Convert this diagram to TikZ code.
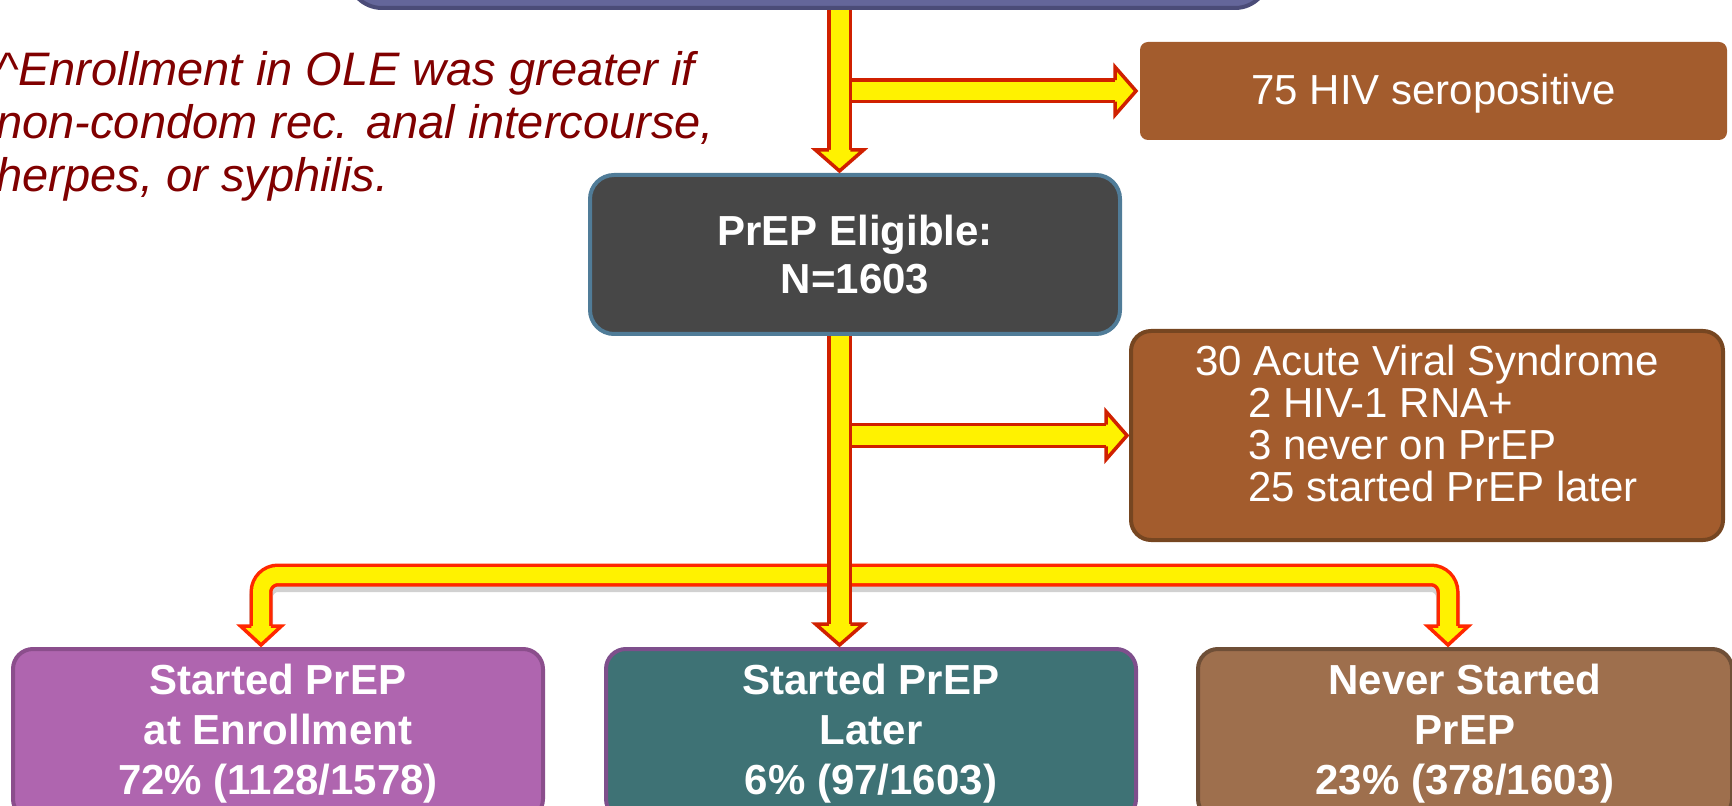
\documentclass[tikz,border=0pt]{standalone}
\usepackage{fontspec}
\setmainfont{Liberation Sans}
\usetikzlibrary{
  calc,
  positioning
}
\definecolor{topfill}{RGB}{100,102,154}
\definecolor{topline}{RGB}{75,76,120}
\definecolor{rustfill}{RGB}{163,92,45}
\definecolor{rustline}{RGB}{118,70,33}
\definecolor{eligfill}{RGB}{71,71,71}
\definecolor{eligline}{RGB}{80,124,152}
\definecolor{enrolfill}{RGB}{175,101,175}
\definecolor{enrolline}{RGB}{139,78,140}
\definecolor{laterfill}{RGB}{62,114,117}
\definecolor{laterline}{RGB}{126,79,140}
\definecolor{neverfill}{RGB}{158,111,77}
\definecolor{neverline}{RGB}{111,79,55}
\definecolor{notered}{RGB}{128,0,0}
\definecolor{arrowred}{RGB}{208,32,0}
\definecolor{bendred}{RGB}{255,40,0}

\begin{document}
\begin{tikzpicture}[x=0.5pt,y=0.5pt,
      box/.style={
         rectangle,
         anchor=north west,
         inner sep=0pt,
         line width=2pt,
         text=white,
         align=center
      },
      bold text/.style={font=\fontsize{21pt}{#1}\selectfont\bfseries},
      plain text/.style={font=\fontsize{21pt}{#1}\selectfont},
      note/.style={
         anchor=north west,
         inner sep=0pt,
         align=left,
         text=notered,
         font=\fontsize{23.5pt}{26.5pt}\selectfont\itshape
      },
      shaft/.style={draw=yellow,line width=9pt,
         preaction={draw=arrowred,line width=12.5pt}},
      bent shaft/.style={draw=yellow,line width=8pt,rounded corners=8.5pt,
         preaction={draw=bendred,line width=11.5pt}},
      bar shadow/.style={draw=black,opacity=0.18,line width=12pt,rounded corners=8.5pt,
         transform canvas={yshift=-2.5pt}},
      head/.style={fill=yellow,draw=arrowred,line width=1.75pt,line join=miter},
      bent head/.style={fill=yellow,draw=bendred,line width=1.75pt,line join=miter},
      pics/blockhead/.style n args={4}{code={
         \filldraw[#4] (-#1,0) -- (-#2,0) -- (0,-#3) -- (#2,0) -- (#1,0);}}
    ]
    \useasboundingbox (0,0) rectangle (1732,-806);

    % boxes
    \node (top) [box, anchor=south west, fill=topfill, draw=topline, rounded corners=17pt,
       minimum width=460.5pt, minimum height=30pt] at (346,-10) {};
    \node (hiv) [box, fill=rustfill, rounded corners=4pt, plain text=21pt,
       minimum width=293.5pt, minimum height=49pt] at (1138,-40) {75 HIV seropositive\\[-19pt]{}};
    \node (elig) [box, fill=eligfill, draw=eligline, rounded corners=12pt, bold text=24pt,
       minimum width=265pt, minimum height=79.5pt] at (588,-173) {PrEP Eligible:\\N=1603};
    \node (acute) [box, fill=rustfill, draw=rustline, rounded corners=10pt, plain text=21pt,
       align=left, minimum width=296pt, minimum height=104.5pt] at (1129,-329)
       {30 Acute Viral Syndrome\\\hspace*{26.5pt}2 HIV-1 RNA+\\\hspace*{26.5pt}3 never on PrEP\\\hspace*{26.5pt}25 started PrEP later\\[-9pt]{}};
    \node (enrol) [box, fill=enrolfill, draw=enrolline, rounded corners=10pt, bold text=25pt,
       minimum width=265pt, minimum height=85pt] at (11,-647) {Started PrEP\\at Enrollment\\72\% (1128/1578)};
    \node (later) [box, fill=laterfill, draw=laterline, rounded corners=10pt, bold text=25pt,
       minimum width=265pt, minimum height=85pt] at (604,-647) {Started PrEP\\Later\\6\% (97/1603)};
    \node (never) [box, fill=neverfill, draw=neverline, rounded corners=10pt, bold text=25pt,
       minimum width=267pt, minimum height=85pt] at (1196,-647) {Never Started\\PrEP\\23\% (378/1603)};

    \node (note) [note] at (-4,-51)
       {\textasciicircum Enrollment in OLE was greater if\\non-condom rec. anal intercourse,\\herpes, or syphilis.};

    % arrow points
    \coordinate (spine) at (839.5,0);
    \coordinate (a1) at ($(spine |- elig.north)+(0,23)$);
    \coordinate (s2) at ($(spine |- hiv.west)+(12.5,0)$);
    \coordinate (a2) at ($(hiv.west)+(-23,0)$);
    \coordinate (a3) at ($(spine |- later.north)+(0,23)$);
    \coordinate (s4) at ($(spine |- acute.west)+(12.5,0)$);
    \coordinate (a4) at ($(acute.west)+(-23,0)$);
    \coordinate (fork) at ($(spine |- later.north)+(0,72)$);
    \coordinate (a5) at ($(enrol.north)+(-17,21)$);
    \coordinate (a6) at ($(never.north)+(-17,21)$);

    % branches to the three groups
    \draw[bar shadow] (fork) -| (a5);
    \draw[bar shadow] (fork) -| (a6);
    \draw[bent shaft] (fork) -| (a5);
    \draw[bent shaft] (fork) -| (a6);
    \pic at (a5) {blockhead={9.75}{20.5}{19}{bent head}};
    \pic at (a6) {blockhead={9.75}{20.5}{19}{bent head}};

    % main line
    \draw[shaft] (spine |- top.south) -- (a1);
    \pic at (a1) {blockhead={10.75}{24}{21}{head}};
    \draw[shaft] (s2) -- (a2);
    \pic[rotate=90] at (a2) {blockhead={10.75}{24}{21}{head}};
    \draw[shaft] (spine |- elig.south) -- (a3);
    \pic at (a3) {blockhead={10.75}{24}{21}{head}};
    \draw[shaft] (s4) -- (a4);
    \pic[rotate=90] at (a4) {blockhead={10.75}{24}{21}{head}};
\end{tikzpicture}
\end{document}
